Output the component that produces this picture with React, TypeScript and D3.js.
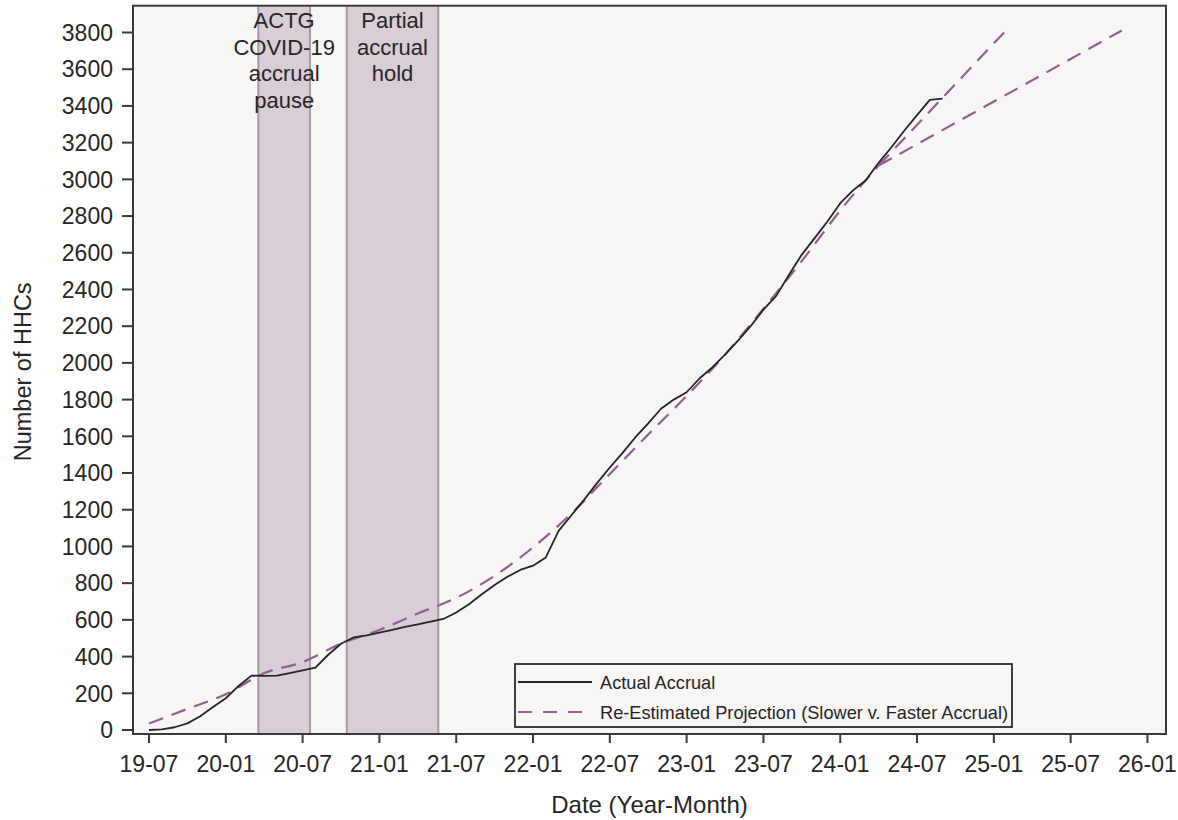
import React from "react";
import * as d3 from "d3";

// ---- data ----
const xTickLabels = ["19-07","20-01","20-07","21-01","21-07","22-01","22-07","23-01","23-07","24-01","24-07","25-01","25-07","26-01"];
const xTickMonths = [0,6,12,18,24,30,36,42,48,54,60,66,72,78]; // months since 2019-07
const yTicks = [0,200,400,600,800,1000,1200,1400,1600,1800,2000,2200,2400,2600,2800,3000,3200,3400,3600,3800];

// Actual accrual, monthly from 2019-07
const actualAccrual = [
  0, 3, 15, 36, 75, 125, 173, 240, 296, 295, 296, 310, 325,
  340, 410, 470, 505, 515, 530, 545, 562, 575, 590, 605,
  640, 685, 740, 790, 835, 872, 895, 940, 1085, 1170, 1255, 1345,
  1430, 1510, 1595, 1670, 1750, 1800, 1840, 1915, 1975, 2045, 2120, 2200,
  2290, 2365, 2480, 2590, 2680, 2770, 2870, 2940, 2995, 3090, 3175, 3265,
  3350, 3433, 3440
];

// Re-estimated projection (common part)
const projMonths = [0,3,6,9,12,15,18,21,24,27,30,33,36,39,42,45,48,51,54,57];
const projValues = [35,115,195,310,370,470,545,635,720,840,995,1180,1395,1610,1820,2045,2295,2555,2830,3075];
// Branches
const fasterMonths = [57, 67];
const fasterValues = [3075, 3815];
const slowerMonths = [57, 76];
const slowerValues = [3075, 3811];

// Shaded periods
const bandStarts = [8.54, 15.45];
const bandEnds = [12.58, 22.6];
const bandLabels = [["ACTG","COVID-19","accrual","pause"],["Partial","accrual","hold"]];

const legendLabels = ["Actual Accrual", "Re-Estimated Projection (Slower v. Faster Accrual)"];

const FONT = "'Liberation Sans', Arial, sans-serif";

export default function App() {
  const W = 1178, H = 820;
  const left = 133, right = 1166, top = 5.7, bottom = 734;
  const x = d3.scaleLinear().domain([-1.25, 79.45]).range([left, right]);
  const y = d3.scaleLinear().domain([-21.8, 3946]).range([bottom, top]);

  const line = d3.line<[number, number]>().x(d => x(d[0])).y(d => y(d[1]));
  const smooth = d3.line<[number, number]>().x(d => x(d[0])).y(d => y(d[1])).curve(d3.curveMonotoneX);

  const actualPts: [number, number][] = actualAccrual.map((v, i) => [i, v]);
  const projPts: [number, number][] = projMonths.map((m, i) => [m, projValues[i]]);
  const fastPts: [number, number][] = fasterMonths.map((m, i) => [m, fasterValues[i]]);
  const slowPts: [number, number][] = slowerMonths.map((m, i) => [m, slowerValues[i]]);

  const dashColor = "#94608f";
  const dash = "15,9";
  const textColor = "#262626";

  return (
    <svg width={W} height={H} style={{ position: "absolute", left: 0, top: 0, background: "#ffffff" }} fontFamily={FONT}>
      <defs>
        <clipPath id="plotclip">
          <rect x={left} y={top} width={right - left} height={bottom - top} />
        </clipPath>
      </defs>
      <rect x={left} y={top} width={right - left} height={bottom - top} fill="#f7f6f5" />
      {bandStarts.map((s, i) => (
        <g key={"b" + i}>
          <rect x={x(s)} y={top} width={x(bandEnds[i]) - x(s)} height={bottom - top} fill="#d9cdd6" />
          <line x1={x(s)} x2={x(s)} y1={top} y2={bottom} stroke="#a09ca0" strokeWidth={2} />
          <line x1={x(bandEnds[i])} x2={x(bandEnds[i])} y1={top} y2={bottom} stroke="#a09ca0" strokeWidth={2} />
        </g>
      ))}
      {bandStarts.map((s, i) => (
        <text key={"bl" + i} x={(x(s) + x(bandEnds[i])) / 2} y={28} textAnchor="middle" fontSize={22} fill={textColor}>
          {bandLabels[i].map((t, j) => (
            <tspan key={j} x={(x(s) + x(bandEnds[i])) / 2} dy={j === 0 ? 0 : 26.5}>{t}</tspan>
          ))}
        </text>
      ))}
      <g clipPath="url(#plotclip)">
        <path d={smooth(projPts) || ""} fill="none" stroke={dashColor} strokeWidth={2.2} strokeDasharray={dash} />
        <path d={line(fastPts) || ""} fill="none" stroke={dashColor} strokeWidth={2.2} strokeDasharray={dash} />
        <path d={line(slowPts) || ""} fill="none" stroke={dashColor} strokeWidth={2.2} strokeDasharray={dash} />
        <path d={line(actualPts) || ""} fill="none" stroke="#262626" strokeWidth={1.8} strokeLinejoin="round" />
      </g>
      {/* frame */}
      <rect x={left} y={top} width={right - left} height={bottom - top} fill="none" stroke="#3a3a3a" strokeWidth={2} />
      {/* y axis */}
      {yTicks.map(t => (
        <g key={"y" + t}>
          <line x1={left - 11} x2={left} y1={y(t)} y2={y(t)} stroke="#3a3a3a" strokeWidth={2} />
          <text x={left - 20} y={y(t)} dy="0.36em" textAnchor="end" fontSize={23} fill={textColor}>{t}</text>
        </g>
      ))}
      {/* x axis */}
      {xTickMonths.map((m, i) => (
        <g key={"x" + m}>
          <line x1={x(m)} x2={x(m)} y1={bottom} y2={bottom + 9} stroke="#3a3a3a" strokeWidth={2} />
          <text x={x(m)} y={772} textAnchor="middle" fontSize={23} fill={textColor}>{xTickLabels[i]}</text>
        </g>
      ))}
      <text x={(left + right) / 2} y={813} textAnchor="middle" fontSize={24} fill={textColor}>Date (Year-Month)</text>
      <text transform={`translate(31,${(top + bottom) / 2 + 2}) rotate(-90)`} textAnchor="middle" fontSize={23.5} fill={textColor}>Number of HHCs</text>
      {/* legend */}
      <g>
        <rect x={515} y={664} width={497} height={63} fill="#f7f6f5" stroke="#2a2a2a" strokeWidth={1.8} />
        <line x1={518} x2={592} y1={682} y2={682} stroke="#262626" strokeWidth={1.8} />
        <text x={600} y={689} fontSize={18.2} fill={textColor}>{legendLabels[0]}</text>
        <line x1={518} x2={582} y1={712} y2={712} stroke={dashColor} strokeWidth={2} strokeDasharray="14,11" />
        <text x={600} y={719} fontSize={18.2} fill={textColor}>{legendLabels[1]}</text>
      </g>
    </svg>
  );
}
